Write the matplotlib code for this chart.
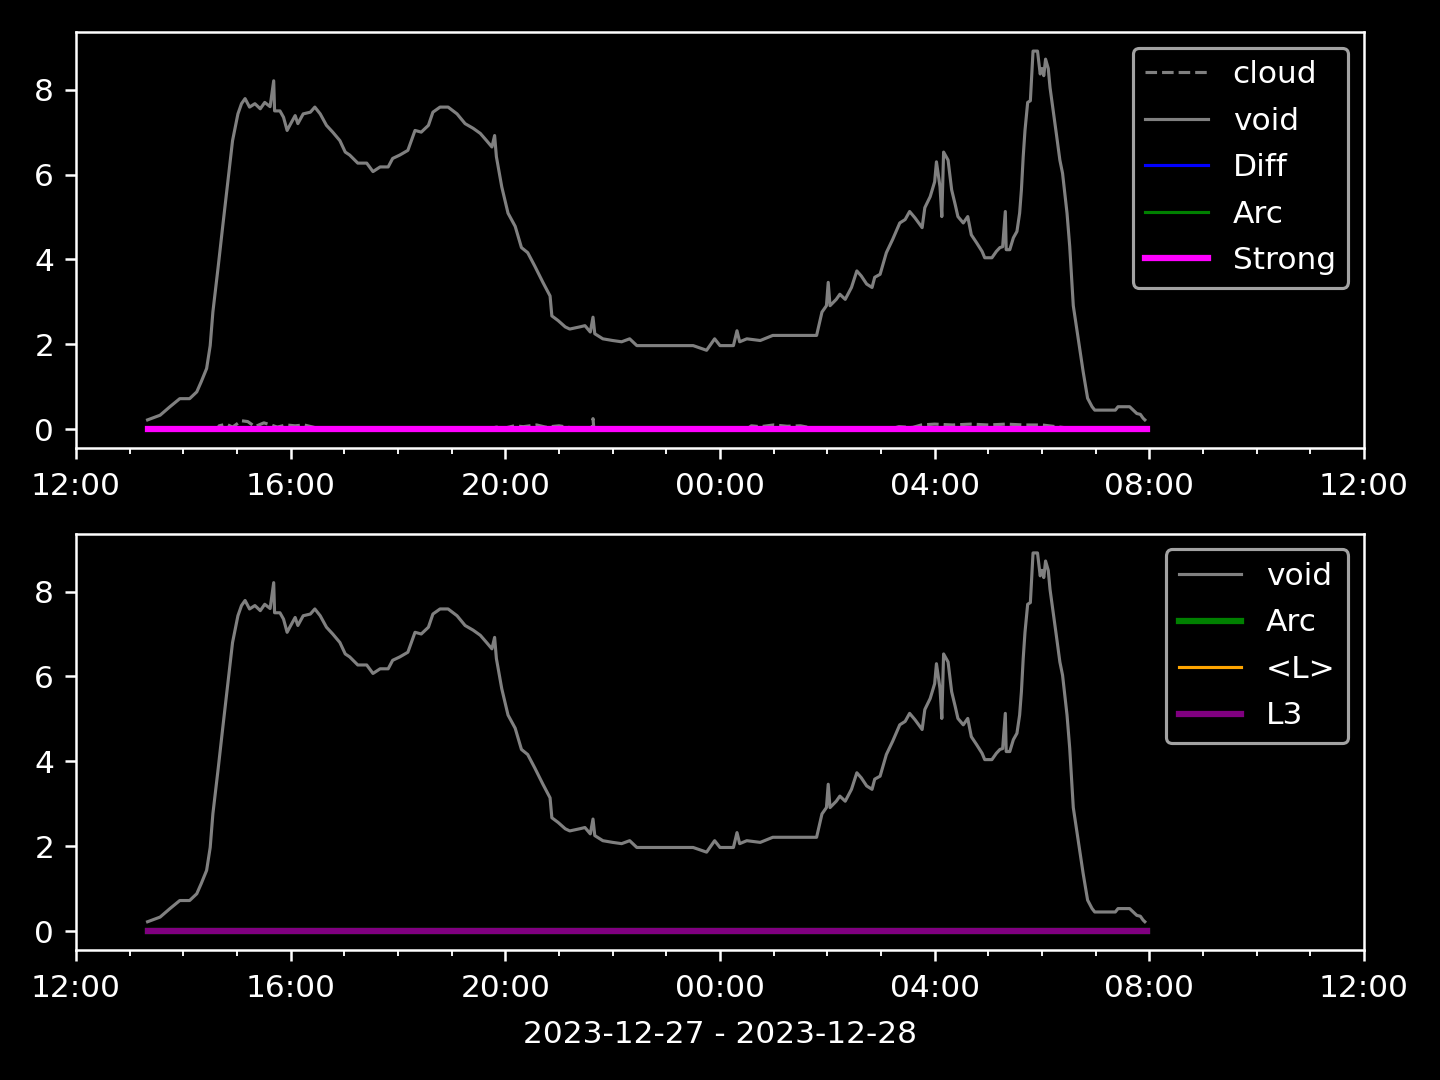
import matplotlib
matplotlib.use("Agg")
import matplotlib.pyplot as plt
import matplotlib.dates as mdates
from datetime import datetime

plt.style.use("dark_background")

# ---- data ----
void_times = [
    "13:20", "13:34", "13:45", "13:56", "14:07", "14:15", "14:20", "14:26", "14:30", "14:33",
    "14:39", "14:44", "14:50", "14:55", "15:01", "15:05", "15:09", "15:14", "15:20", "15:26",
    "15:31", "15:37", "15:41", "15:42", "15:48", "15:52", "15:56", "15:59", "16:05", "16:08",
    "16:14", "16:22", "16:27", "16:33", "16:40", "16:47", "16:55", "17:01", "17:06", "17:15",
    "17:25", "17:32", "17:40", "17:49", "17:54", "18:02", "18:11", "18:19", "18:26", "18:34",
    "18:39", "18:47", "18:56", "19:06", "19:15", "19:24", "19:32", "19:39", "19:45", "19:48",
    "19:50", "19:56", "20:03", "20:11", "20:18", "20:25", "20:33", "20:42", "20:50", "20:52",
    "20:59", "21:07", "21:12", "21:23", "21:29", "21:35", "21:38", "21:40", "21:49", "22:00",
    "22:10", "22:19", "22:27", "22:53", "23:30", "23:45", "23:54", "00:00", "00:15", "00:19",
    "00:22", "00:30", "00:45", "00:59", "01:22", "01:44", "01:48", "01:54", "01:59", "02:01",
    "02:03", "02:10", "02:14", "02:20", "02:27", "02:33", "02:38", "02:44", "02:50", "02:53",
    "02:59", "03:06", "03:13", "03:21", "03:27", "03:32", "03:38", "03:46", "03:49", "03:55",
    "04:00", "04:02", "04:06", "04:08", "04:10", "04:15", "04:19", "04:23", "04:26", "04:32",
    "04:37", "04:41", "04:47", "04:53", "04:56", "05:04", "05:09", "05:13", "05:16", "05:19",
    "05:20", "05:24", "05:28", "05:32", "05:35", "05:37", "05:39", "05:41", "05:44", "05:47",
    "05:50", "05:55", "05:58", "06:00", "06:02", "06:04", "06:07", "06:09", "06:12", "06:16",
    "06:20", "06:23", "06:28", "06:31", "06:35", "06:40", "06:46", "06:51", "06:56", "06:59",
    "07:22", "07:25", "07:38", "07:42", "07:46", "07:50", "07:53", "07:55",
]
void_values = [
    0.22, 0.33, 0.53, 0.72, 0.72, 0.88, 1.12, 1.43, 1.97, 2.76,
    3.84, 4.78, 5.87, 6.80, 7.43, 7.67, 7.79, 7.59, 7.67, 7.55,
    7.70, 7.60, 8.21, 7.50, 7.50, 7.35, 7.04, 7.16, 7.39, 7.20,
    7.43, 7.47, 7.59, 7.43, 7.16, 7.00, 6.80, 6.53, 6.46, 6.27,
    6.27, 6.07, 6.18, 6.18, 6.38, 6.46, 6.57, 7.04, 7.00, 7.16,
    7.47, 7.59, 7.59, 7.43, 7.20, 7.09, 6.97, 6.80, 6.65, 6.92,
    6.42, 5.71, 5.09, 4.78, 4.28, 4.16, 3.84, 3.46, 3.14, 2.67,
    2.56, 2.41, 2.36, 2.41, 2.44, 2.29, 2.64, 2.25, 2.13, 2.09,
    2.06, 2.13, 1.97, 1.97, 1.97, 1.86, 2.13, 1.97, 1.97, 2.32,
    2.06, 2.13, 2.09, 2.21, 2.21, 2.21, 2.21, 2.76, 2.91, 3.46,
    2.91, 3.06, 3.18, 3.06, 3.34, 3.73, 3.61, 3.42, 3.34, 3.58,
    3.65, 4.16, 4.47, 4.86, 4.94, 5.13, 4.98, 4.75, 5.22, 5.48,
    5.83, 6.30, 5.71, 5.01, 6.53, 6.34, 5.64, 5.29, 5.01, 4.86,
    5.01, 4.58, 4.39, 4.19, 4.04, 4.04, 4.19, 4.28, 4.30, 5.13,
    4.23, 4.23, 4.51, 4.66, 5.09, 5.64, 6.42, 7.04, 7.70, 7.74,
    8.91, 8.91, 8.37, 8.50, 8.33, 8.72, 8.50, 8.05, 7.59, 6.97,
    6.34, 6.03, 5.09, 4.31, 2.91, 2.21, 1.36, 0.73, 0.53, 0.45,
    0.45, 0.53, 0.53, 0.45, 0.37, 0.35, 0.26, 0.22,
]

cloud_times = [
    "13:20", "14:38", "14:40", "14:48", "14:55", "15:05", "15:12", "15:20", "15:30", "15:38",
    "15:45", "15:55", "16:05", "16:15", "16:25", "16:34", "19:40", "19:50", "20:00", "20:10",
    "20:20", "20:35", "20:45", "21:00", "21:15", "21:37", "21:38", "21:39", "00:30", "00:35",
    "00:45", "01:00", "01:15", "01:30", "01:50", "03:10", "03:20", "03:35", "03:45", "04:00",
    "04:20", "04:40", "05:00", "05:20", "05:40", "06:00", "06:20", "06:40", "07:57",
]
cloud_values = [
    0.00, 0.00, 0.08, 0.12, 0.05, 0.20, 0.18, 0.06, 0.15, 0.10,
    0.05, 0.10, 0.08, 0.10, 0.05, 0.00, 0.00, 0.05, 0.03, 0.08,
    0.06, 0.10, 0.05, 0.08, 0.03, 0.00, 0.25, 0.00, 0.00, 0.08,
    0.06, 0.10, 0.07, 0.08, 0.00, 0.00, 0.06, 0.04, 0.10, 0.12,
    0.10, 0.12, 0.10, 0.12, 0.10, 0.10, 0.05, 0.00, 0.00,
]

flat_times = ["13:20", "07:57"]
diff_values = [0.0, 0.0]
arc_values = [0.0, 0.0]
strong_values = [0.0, 0.0]
meanL_values = [0.0, 0.0]
l3_values = [0.0, 0.0]

xlabel_text = "2023-12-27 - 2023-12-28"


def to_dt(s):
    h, m = map(int, s.split(":"))
    day = 27 if h >= 12 else 28
    return datetime(2023, 12, day, h, m)


vt = [to_dt(s) for s in void_times]
ct = [to_dt(s) for s in cloud_times]
ft = [to_dt(s) for s in flat_times]

fig, (ax1, ax2) = plt.subplots(2, 1, figsize=(6.4, 4.8), dpi=225)
fig.subplots_adjust(left=0.0528, right=0.9472, top=0.9704, bottom=0.1204, hspace=0.206)

ax1.plot(ct, cloud_values, color="gray", ls="--", lw=1, label="cloud")
ax1.plot(vt, void_values, color="gray", lw=1, label="void")
ax1.plot(ft, diff_values, color="blue", lw=1, label="Diff")
ax1.plot(ft, arc_values, color="green", lw=1, label="Arc")
ax1.plot(ft, strong_values, color="magenta", lw=2, label="Strong")
ax1.legend(loc="upper right", labelspacing=0.56)

ax2.plot(vt, void_values, color="gray", lw=1, label="void")
ax2.plot(ft, arc_values, color="green", lw=2, label="Arc")
ax2.plot(ft, meanL_values, color="orange", lw=1, label="<L>")
ax2.plot(ft, l3_values, color="purple", lw=2, label="L3")
ax2.legend(loc="upper right", labelspacing=0.56)

for ax in (ax1, ax2):
    ax.set_xlim(datetime(2023, 12, 27, 12, 0), datetime(2023, 12, 28, 12, 0))
    ax.set_ylim(-0.445, 9.36)
    ax.xaxis.set_major_locator(mdates.HourLocator(byhour=[0, 4, 8, 12, 16, 20]))
    ax.xaxis.set_minor_locator(mdates.HourLocator())
    ax.xaxis.set_major_formatter(mdates.DateFormatter("%H:%M"))
    ax.set_yticks([0, 2, 4, 6, 8])
    ax.tick_params(axis="x", which="major", pad=4.1)

ax2.set_xlabel(xlabel_text, labelpad=5.5)

fig.savefig("out.png", dpi=225)
